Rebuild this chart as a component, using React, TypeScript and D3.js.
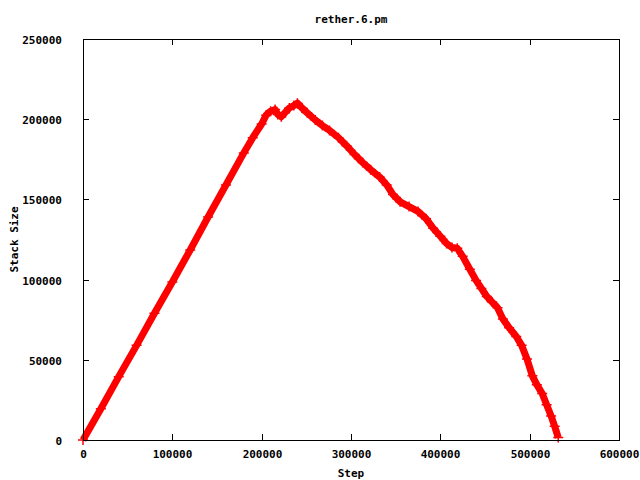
import React, { useEffect, useRef } from 'react';
import * as d3 from 'd3';

// stack size vs step
const steps = [
  0, 20000, 40000, 60000, 80000, 100000, 120000, 140000, 160000, 180000,
  190000, 200000, 205000, 210000, 215000, 218000, 222000, 226000, 231000, 236000,
  240000, 245000, 251000, 260000, 268000, 276000, 286000, 295000, 304000, 313000,
  322000, 332000, 340000, 347000, 355000, 365000, 375000, 384000, 392000, 400000,
  407000, 413000, 419000, 425000, 433000, 440000, 446000, 452000, 458000, 464000,
  470000, 477000, 485000, 491000, 497000, 503000, 508000, 514000, 519000, 524000,
  528000, 532000
];
const stackSizes = [
  0, 19500, 39500, 59000, 79000, 98500, 118500, 139000, 159000, 179000,
  188500, 197000, 202500, 205000, 206000, 203000, 201500, 204000, 207000, 208500,
  210000, 207000, 204000, 199500, 196000, 193000, 188500, 183500, 178000, 173000,
  168500, 164000, 159000, 153000, 148500, 145500, 142500, 138000, 132000, 127000,
  122500, 120000, 119500, 114500, 106500, 99500, 94500, 89500, 86000, 82500,
  75500, 70000, 64500, 59000, 50500, 40000, 34500, 29000, 22000, 15000,
  8500, 1500
];
const xTicks = [0, 100000, 200000, 300000, 400000, 500000, 600000];
const yTicks = [0, 50000, 100000, 150000, 200000, 250000];

const title = 'rether.6.pm';
const xLabel = 'Step';
const yLabel = 'Stack Size';

const W = 640;
const H = 480;
const margin = { left: 83, right: 21, top: 39, bottom: 40 };
const font = '"DejaVu Sans Mono", monospace';

export default function App() {
  const svgRef = useRef<SVGSVGElement>(null);

  useEffect(() => {
    if (!svgRef.current) return;
    const svg = d3.select(svgRef.current);
    svg.selectAll('*').remove();

    const x = d3.scaleLinear().domain([0, 600000]).range([margin.left, W - margin.right]);
    const y = d3.scaleLinear().domain([0, 250000]).range([H - margin.bottom, margin.top]);
    const x0 = x.range()[0], x1 = x.range()[1];
    const y0 = y.range()[0], y1 = y.range()[1];

    svg.append('rect').attr('width', W).attr('height', H).attr('fill', '#fff');

    const data = steps.map((s, i) => [s, stackSizes[i]] as [number, number]);

    // data band
    const line = d3.line<[number, number]>().x(d => x(d[0])).y(d => y(d[1]));
    svg.append('path')
      .datum(data)
      .attr('d', line)
      .attr('fill', 'none')
      .attr('stroke', '#ff0000')
      .attr('stroke-width', 7)
      .attr('stroke-linejoin', 'round');

    // + markers
    svg.append('g')
      .selectAll('path')
      .data(data)
      .enter()
      .append('path')
      .attr('d', d => {
        const cx = x(d[0]), cy = y(d[1]);
        return `M${cx - 5},${cy}H${cx + 5}M${cx},${cy - 5}V${cy + 5}`;
      })
      .attr('stroke', '#ff0000')
      .attr('stroke-width', 1.5);

    // frame
    svg.append('rect')
      .attr('x', x0 + 0.5)
      .attr('y', y1 + 0.5)
      .attr('width', x1 - x0)
      .attr('height', y0 - y1)
      .attr('fill', 'none')
      .attr('stroke', '#000')
      .attr('stroke-width', 1);

    const tickLen = 6;
    xTicks.forEach(t => {
      const px = Math.round(x(t)) + 0.5;
      svg.append('line').attr('x1', px).attr('x2', px).attr('y1', y0).attr('y2', y0 - tickLen)
        .attr('stroke', '#000');
      svg.append('line').attr('x1', px).attr('x2', px).attr('y1', y1).attr('y2', y1 + tickLen)
        .attr('stroke', '#000');
      svg.append('text')
        .attr('x', px)
        .attr('y', y0 + 18)
        .attr('text-anchor', 'middle')
        .attr('font-family', font)
        .attr('font-weight', 'bold')
        .attr('font-size', 11)
        .text(String(t));
    });

    yTicks.forEach(t => {
      const py = Math.round(y(t)) + 0.5;
      svg.append('line').attr('x1', x0).attr('x2', x0 + tickLen).attr('y1', py).attr('y2', py)
        .attr('stroke', '#000');
      svg.append('line').attr('x1', x1).attr('x2', x1 - tickLen).attr('y1', py).attr('y2', py)
        .attr('stroke', '#000');
      svg.append('text')
        .attr('x', x0 - 21)
        .attr('y', py + 4)
        .attr('text-anchor', 'end')
        .attr('font-family', font)
        .attr('font-weight', 'bold')
        .attr('font-size', 11)
        .text(String(t));
    });

    svg.append('text')
      .attr('x', (x0 + x1) / 2)
      .attr('y', 23)
      .attr('text-anchor', 'middle')
      .attr('font-family', font)
      .attr('font-weight', 'bold')
      .attr('font-size', 11)
      .text(title);

    svg.append('text')
      .attr('x', (x0 + x1) / 2)
      .attr('y', 477)
      .attr('text-anchor', 'middle')
      .attr('font-family', font)
      .attr('font-weight', 'bold')
      .attr('font-size', 11)
      .text(xLabel);

    svg.append('text')
      .attr('transform', `translate(18,${(y0 + y1) / 2}) rotate(-90)`)
      .attr('text-anchor', 'middle')
      .attr('font-family', font)
      .attr('font-weight', 'bold')
      .attr('font-size', 11)
      .text(yLabel);
  }, []);

  return (
    <div style={{ position: 'absolute', left: 0, top: 0 }}>
      <svg ref={svgRef} width={W} height={H} style={{ display: 'block' }} />
    </div>
  );
}
